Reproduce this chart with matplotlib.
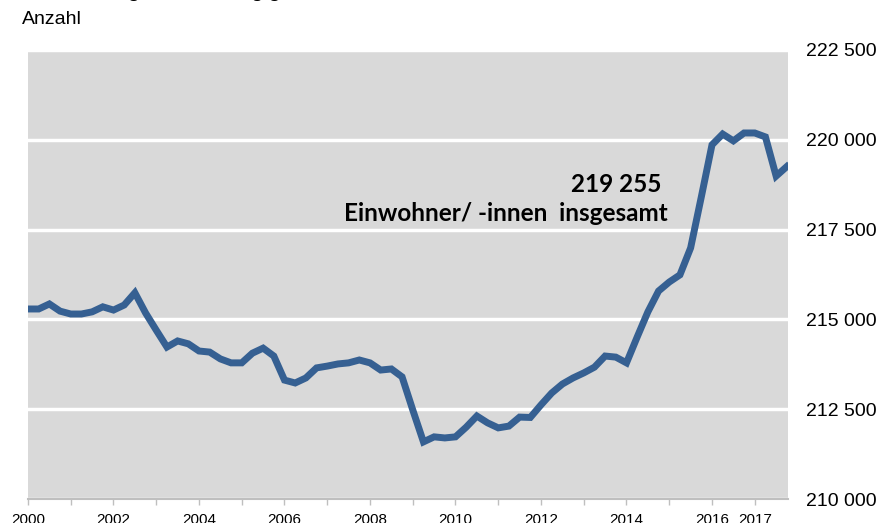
import matplotlib
matplotlib.use("Agg")
import matplotlib.pyplot as plt
import numpy as np

# Quarterly population, 2000 Q1 .. 2017 Q4
values = [
    215290, 215290, 215430, 215230, 215150, 215150, 215210, 215350,
    215260, 215400, 215740, 215180, 214700, 214230, 214400, 214320,
    214120, 214090, 213900, 213790, 213790, 214060, 214200, 213980,
    213310, 213230, 213370, 213650, 213700, 213760, 213790, 213870,
    213790, 213590, 213620, 213400, 212480, 211590, 211730, 211700,
    211730, 212000, 212310, 212120, 211980, 212030, 212280, 212270,
    212620, 212950, 213200, 213370, 213510, 213670, 213980, 213950,
    213790, 214510, 215210, 215790, 216040, 216240, 216990, 218410,
    219860, 220160, 219970, 220190, 220190, 220080, 218990, 219255,
]
years = [2000 + i * 0.25 for i in range(len(values))]
tick_years = list(range(2000, 2018))
label_years = [2000, 2002, 2004, 2006, 2008, 2010, 2012, 2014, 2016, 2017]
y_ticks = [210000, 212500, 215000, 217500, 220000, 222500]

W, H = 883, 523
fig = plt.figure(figsize=(W / 100, H / 100), dpi=100)
ax = fig.add_axes([28 / W, 1 - 499 / H, (788 - 28) / W, (499 - 50) / H])
ax.set_facecolor("#d9d9d9")

ax.plot(years, values, color="#366092", lw=5, solid_joinstyle="miter", zorder=3)

ax.set_xlim(2000, 2000 + (788 - 28) / 42.75)
ax.set_ylim(210000, 222500)

ax.set_yticks(y_ticks)
ax.yaxis.tick_right()
ax.set_yticklabels([f"{v:,}".replace(",", " ") for v in y_ticks],
                   fontsize=14, family="Liberation Sans")
ax.tick_params(axis="y", length=0, pad=13)
ax.grid(axis="y", color="white", lw=2.5, zorder=1)

ax.set_xticks(tick_years)
ax.set_xticklabels([str(y) if y in label_years else "" for y in tick_years],
                   fontsize=11, family="Liberation Sans")
ax.tick_params(axis="x", length=4, width=1, color="#bfbfbf", pad=6, direction="out")

for s in ["top", "left", "right"]:
    ax.spines[s].set_visible(False)
ax.spines["bottom"].set_color("#bfbfbf")
ax.spines["bottom"].set_linewidth(1.5)
ax.set_axisbelow(True)

fig.text(22 / W, 1 - 20 / H, "Anzahl", fontsize=14, family="Liberation Sans",
         va="center", ha="left")
fig.text(22 / W, 1 + 3 / H, "Bevölkerungsentwicklung gesamt", fontsize=14,
         fontweight="bold", family="Liberation Sans", va="baseline", ha="left")

fig.text(661 / W, 1 - 185 / H, "219 255", fontsize=17.5, fontweight="bold",
         family="Lato", ha="right", va="center")
fig.text(668 / W, 1 - 214 / H, "Einwohner/ -innen  insgesamt", fontsize=17.5,
         fontweight="bold", family="Lato", ha="right", va="center")

fig.savefig("out.png", dpi=100)
